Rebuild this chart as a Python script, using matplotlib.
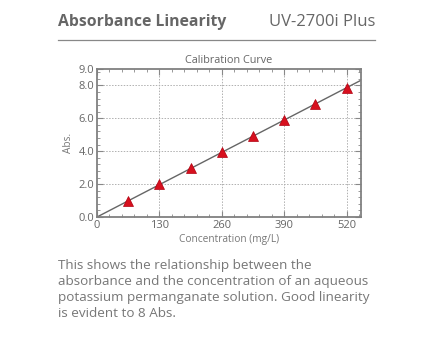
import numpy as np
import matplotlib.pyplot as plt
from matplotlib import font_manager as fm
from matplotlib.ticker import MultipleLocator, FormatStrFormatter

# data
conc = [65, 130, 195, 260, 325, 390, 455, 520]
absb = [0.99, 1.98, 2.96, 3.94, 4.93, 5.91, 6.89, 7.87]
x_ticks = [0, 130, 260, 390, 520]
y_ticks = [0.0, 2.0, 4.0, 6.0, 8.0, 9.0]

header = "Absorbance Linearity"
model = "UV-2700i Plus"
note = ("This shows the relationship between the\n"
        "absorbance and the concentration of an aqueous\n"
        "potassium permanganate solution. Good linearity\n"
        "is evident to 8 Abs.")


def pick_font(weight):
    # pick a plain (non-condensed, upright) Open Sans file of the given weight
    best = None
    for f in fm.fontManager.ttflist:
        name = f.fname.lower()
        if f.name != 'Open Sans' or f.style != 'normal':
            continue
        if 'condensed' in name or 'semi' in name or 'italic' in name:
            continue
        if f.weight == weight or (weight == 400 and f.weight == 'regular') \
                or (weight == 700 and f.weight == 'bold'):
            return fm.FontProperties(fname=f.fname)
        if best is None:
            best = f.fname
    if best:
        return fm.FontProperties(fname=best, weight=weight)
    return fm.FontProperties(family='DejaVu Sans', weight=weight)


reg = pick_font(400)
bold = pick_font(700)

fig = plt.figure(figsize=(4.33, 3.40), dpi=100)


def fp(base, size):
    p = base.copy()
    p.set_size(size)
    return p


# header
fig.text(58 / 433, 1 - 22 / 340, header, fontproperties=fp(bold, 11.3),
         color='#666666', va='center', ha='left')
fig.text(375 / 433, 1 - 22 / 340, model, fontproperties=fp(reg, 12), color='#666666',
         va='center', ha='right')
fig.add_artist(plt.Line2D([58 / 433, 375 / 433], [1 - 39.5 / 340, 1 - 39.5 / 340],
                          color='#888888', lw=0.9))

# chart
ax = fig.add_axes([97 / 433, 1 - 217 / 340, (361 - 97) / 433, (217 - 69) / 340])
slope = np.polyfit(conc, absb, 1)[0]
xl = np.array([0, 550])
ax.plot(xl, slope * xl, color='#666666', lw=1.0, zorder=2)
ax.plot(conc, absb, linestyle='none', marker='^', markersize=6.5,
        color='#d7101e', markeredgecolor='#b00010', markeredgewidth=0.5, zorder=3)

ax.set_xlim(0, 550)
ax.set_ylim(0, 9)
ax.set_xticks(x_ticks)
ax.set_yticks(y_ticks)
ax.yaxis.set_major_formatter(FormatStrFormatter('%.1f'))
ax.xaxis.set_minor_locator(MultipleLocator(26))
ax.yaxis.set_minor_locator(MultipleLocator(0.4))
ax.tick_params(which='both', direction='in', top=True, right=True,
               colors='#888888', labelcolor='#666666', pad=2)
ax.tick_params(which='major', length=4)
ax.tick_params(which='minor', length=2.5)
for lbl in ax.get_xticklabels() + ax.get_yticklabels():
    lbl.set_fontproperties(fp(reg, 8))

for x in x_ticks[1:]:
    ax.axvline(x, color='#b0b0b0', lw=0.7, ls=(0, (1.5, 1.5)), zorder=1)
for y in [2, 4, 6, 8]:
    ax.axhline(y, color='#b0b0b0', lw=0.7, ls=(0, (1.5, 1.5)), zorder=1)

for s in ax.spines.values():
    s.set_color('#808080')
    s.set_linewidth(1.3)

ax.set_title("Calibration Curve", fontproperties=fp(reg, 7.8), color='#666666', pad=4)
ax.set_xlabel("Concentration (mg/L)", fontproperties=fp(reg, 7.3), color='#777777', labelpad=2)
ax.set_ylabel("Abs.", fontproperties=fp(reg, 7.3), color='#777777', labelpad=3)

# description
fig.text(58 / 433, 1 - 259.5 / 340, note, fontproperties=fp(reg, 9.7), color='#777777',
         va='top', ha='left', linespacing=1.27)

fig.savefig("out.png", dpi=100)
